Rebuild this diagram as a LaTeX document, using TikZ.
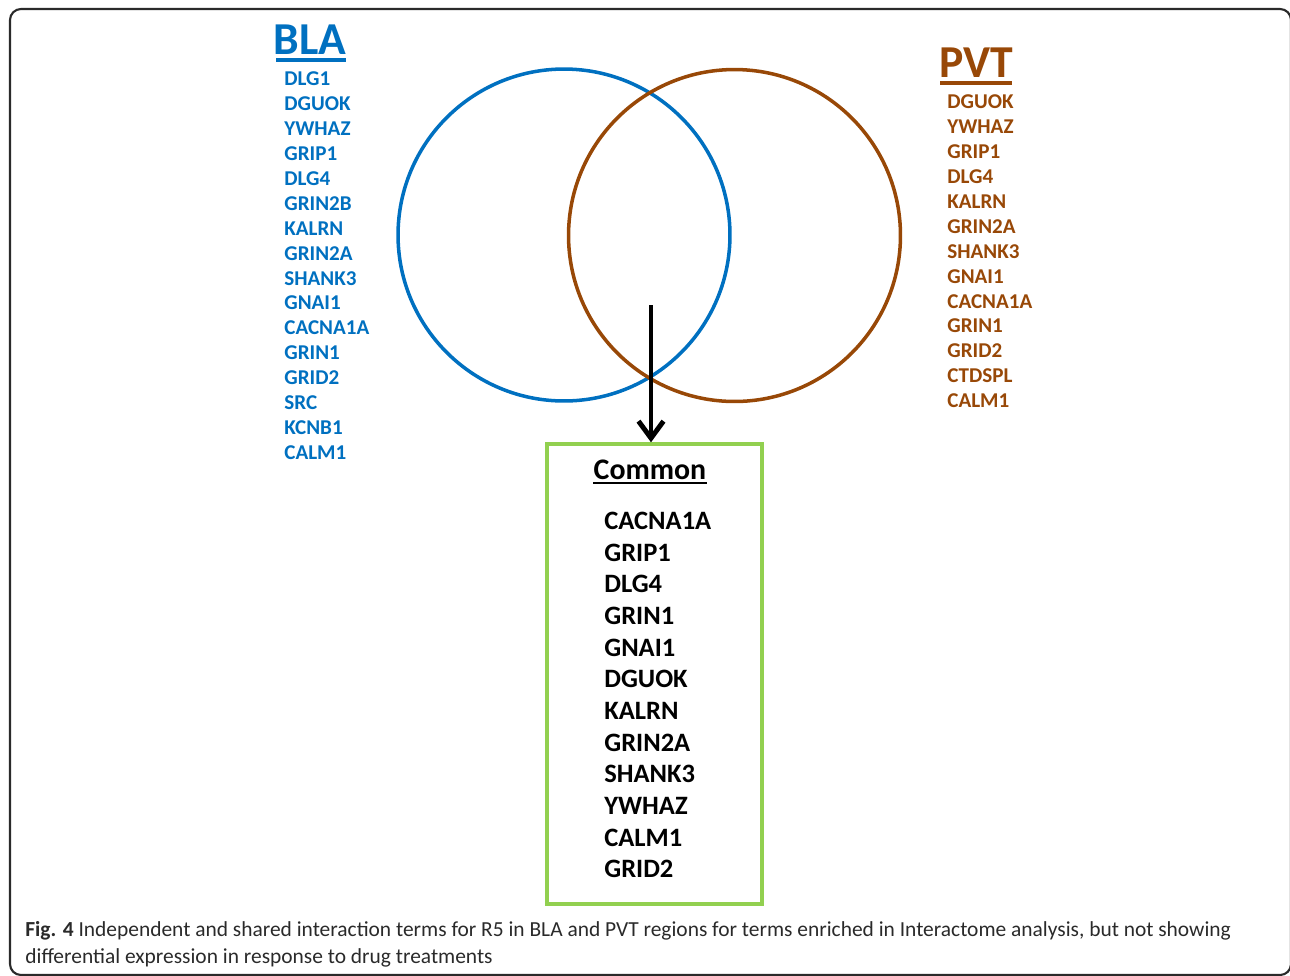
\documentclass[tikz,border=0pt]{standalone}
\usepackage{fontspec}
\setmainfont{Carlito}
\usepackage{tikz}
\usetikzlibrary{arrows.meta, positioning, calc}

\definecolor{blablue}{HTML}{0070C0}
\definecolor{pvtbrown}{HTML}{984807}
\definecolor{boxgreen}{HTML}{92D050}
\definecolor{capgray}{HTML}{2A2A2A}

\begin{document}
\begin{tikzpicture}[
        x=0.02cm, y=-0.02cm,
        region/.style={circle, minimum size=6.64cm, inner sep=0pt, line width=2pt},
        title/.style={font=\fontsize{26}{30}\selectfont\bfseries, inner sep=0pt},
        gene/.style={anchor=west, inner sep=0pt, font=\fontsize{12}{14}\selectfont\bfseries},
        common/.style={anchor=west, inner sep=0pt, font=\fontsize{15.1}{18}\selectfont\bfseries},
        flow/.style={line width=2.8pt, -{Straight Barb[length=3.4mm, width=5mm]}}
    ]
    \useasboundingbox (0,0) rectangle (1290,975);

    % Frame
    \begin{scope}
        \clip (0,0) rectangle (1290,975);
        \draw[capgray, line width=1.2pt, rounded corners=0.22cm] (10,9) rectangle (1291,975);
    \end{scope}

    % Venn circles
    \node[region, draw=blablue] (bla) at (564,235) {};
    \node[region, draw=pvtbrown] (pvt) at (734.5,235.5) {};

    % Titles
    \node[title, text=blablue] (blatitle) at (310,40) {BLA};
    \draw[blablue, line width=2.2pt] (276,60) -- (346,60);
    \node[title, text=pvtbrown] (pvttitle) at (976,63) {PVT};
    \draw[pvtbrown, line width=2pt] (940,83) -- (1012,83);

    % BLA genes
    \foreach \g [count=\i] in {DLG1, DGUOK, YWHAZ, GRIP1, DLG4, GRIN2B, KALRN, GRIN2A,
                               SHANK3, GNAI1, CACNA1A, GRIN1, GRID2, SRC, KCNB1, CALM1}
        \node[gene, text=blablue] (blag\i) at ({284},{79+24.9*(\i-1)}) {\g};

    % PVT genes
    \foreach \g [count=\i] in {DGUOK, YWHAZ, GRIP1, DLG4, KALRN, GRIN2A, SHANK3,
                               GNAI1, CACNA1A, GRIN1, GRID2, CTDSPL, CALM1}
        \node[gene, text=pvtbrown] (pvtg\i) at ({947},{102+24.9*(\i-1)}) {\g};

    % Common box
    \node[draw=boxgreen, line width=2pt, minimum width=4.3cm, minimum height=9.2cm,
          inner sep=0pt] (box) at (654.5,674) {};
    \node[inner sep=0pt, font=\fontsize{17}{20}\selectfont\bfseries] (commontitle) at (650,470) {Common};
    \draw[line width=1.3pt] (593,483) -- (707,483);
    \foreach \g [count=\i] in {CACNA1A, GRIP1, DLG4, GRIN1, GNAI1, DGUOK, KALRN,
                               GRIN2A, SHANK3, YWHAZ, CALM1, GRID2}
        \node[common] (comg\i) at ({604},{521+31.64*(\i-1)}) {\g};

    % Arrow
    \coordinate (overlap) at (651,305);
    \draw[flow] (overlap) -- (box.north -| overlap);

    % Caption
    \node[anchor=north west, inner sep=0pt, align=left, text=capgray,
          font=\fontsize{12.2}{15.3}\selectfont] (caption) at (25,921)
        {\textbf{Fig. 4} Independent and shared interaction terms for R5 in BLA and PVT regions for terms enriched in Interactome analysis, but not showing\\
         differential expression in response to drug treatments};
\end{tikzpicture}
\end{document}
